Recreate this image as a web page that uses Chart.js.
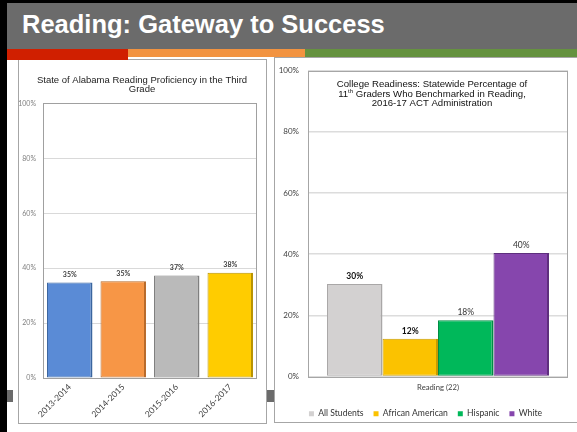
<!DOCTYPE html>
<html><head><meta charset="utf-8">
<script src="https://cdn.jsdelivr.net/npm/chart.js@4.4.1/dist/chart.umd.min.js"></script>
<style>
html,body{margin:0;padding:0;background:#fff;}
body{width:577px;height:432px;position:relative;overflow:hidden;}
.abs{position:absolute;}
#blackL{left:0;top:0;width:7px;height:432px;background:#000;}
#blackT{left:0;top:0;width:577px;height:3px;background:#000;}
#header{left:7px;top:3px;width:570px;height:46px;background:#6B6B6B;}
#header h1{margin:0;position:absolute;left:15px;top:9px;font:bold 25.5px/25px "Liberation Sans",Arial,sans-serif;color:#fff;white-space:nowrap;}
#barR{left:7px;top:49px;width:121px;height:11px;background:#D01F00;}
#barO{left:128px;top:49px;width:177px;height:8px;background:#F29340;}
#barG{left:305px;top:49px;width:272px;height:8px;background:#65923F;}
#boxL{left:18px;top:59px;width:249px;height:365px;border:1px solid #A6A6A6;box-sizing:border-box;}
#boxR{left:274px;top:57px;width:304px;height:366px;border:1px solid #A6A6A6;box-sizing:border-box;}
#sq1{left:7px;top:390px;width:6px;height:12px;background:#6B6B6B;}
#sq2{left:267px;top:390px;width:7px;height:12px;background:#6B6B6B;}
#cL{left:18px;top:59px;}
#cR{left:274px;top:57px;}
</style>
</head><body>
<div id="blackL" class="abs"></div>
<div id="blackT" class="abs"></div>
<div id="header" class="abs"><h1>Reading: Gateway to Success</h1></div>
<div id="boxL" class="abs"></div>
<div id="boxR" class="abs"></div>
<div id="barR" class="abs"></div>
<div id="barO" class="abs"></div>
<div id="barG" class="abs"></div>
<div id="sq1" class="abs"></div>
<div id="sq2" class="abs"></div>
<div id="cL" class="abs" style="width:248px;height:364px;"><canvas id="chartL" width="248" height="364"></canvas></div>
<div id="cR" class="abs" style="width:303px;height:375px;"><canvas id="chartR" width="303" height="375"></canvas></div>
<script>
// ---- data ----
const leftTitle = ['State of Alabama Reading Proficiency in the Third', 'Grade'];
const leftCategories = ['2013-2014', '2014-2015', '2015-2016', '2016-2017'];
const leftValues = [34.8, 35.2, 37.3, 38.3];
const yTicks = [0, 20, 40, 60, 80, 100];

const rightTitleLines = ['College Readiness: Statewide Percentage of', ['11', 'th', ' Graders Who Benchmarked in Reading,'], '2016-17 ACT Administration'];
const rightCategories = ['Reading (22)'];
const rightSeries = ['All Students', 'African American', 'Hispanic', 'White'];
const allStudents = [30.2];
const africanAmerican = [12.3];
const hispanic = [18.4];
const white = [40.4];

// ---- styles ----
const leftColors = ['#5A8BD6', '#F79646', '#BABABA', '#FFCC00'];
const leftBorders = ['#3A659F', '#B86A2A', '#7F7F7F', '#B89300'];
const rightColors = ['#D3D1D1', '#FBC200', '#00B85A', '#8646AD'];
const rightBorders = ['#A9A7A7', '#C79A00', '#008C44', '#5E2F7E'];
const rightLabelBold = [true, true, false, false];
const rightLabelColor = ['#111', '#111', '#333', '#333'];

const SANS = '"Liberation Sans", Arial, sans-serif';
const CAL = 'Lato, "Open Sans", sans-serif';

const plotBorder = {
  id: 'plotBorder',
  beforeDatasetsDraw(chart, args, opts) {
    const a = chart.chartArea, ctx = chart.ctx;
    ctx.save();
    ctx.strokeStyle = opts.color || '#A6A6A6';
    ctx.lineWidth = 1;
    ctx.strokeRect(Math.round(a.left) + 0.5, Math.round(a.top) + 0.5, Math.round(a.right - a.left) - 1, Math.round(a.bottom - a.top));
    ctx.restore();
  }
};

const valueLabels = {
  id: 'valueLabels',
  afterDatasetsDraw(chart, args, opts) {
    const ctx = chart.ctx;
    ctx.save();
    ctx.textAlign = 'center';
    ctx.textBaseline = 'middle';
    chart.data.datasets.forEach((ds, di) => {
      const meta = chart.getDatasetMeta(di);
      meta.data.forEach((el, i) => {
        const bold = opts.bold ? opts.bold[di] : true;
        ctx.font = (bold ? 'bold ' : '') + opts.size + 'px ' + CAL;
        ctx.fillStyle = opts.colors ? opts.colors[di] : '#404040';
        ctx.fillText(Math.round(ds.data[i]) + '%', el.x, el.y - opts.offset);
      });
    });
    ctx.restore();
  }
};

const innerTitle = {
  id: 'innerTitle',
  afterDraw(chart, args, opts) {
    const a = chart.chartArea, ctx = chart.ctx;
    const cx = (a.left + a.right) / 2 - 6;
    const size = 9.6;
    ctx.save();
    ctx.fillStyle = '#111';
    ctx.textBaseline = 'middle';
    opts.lines.forEach((line, li) => {
      const y = a.top + opts.offsets[li];
      if (typeof line === 'string') {
        ctx.font = size + 'px ' + SANS;
        ctx.textAlign = 'center';
        ctx.fillText(line, cx, y);
      } else {
        const f1 = size + 'px ' + SANS, f2 = '6px ' + SANS;
        ctx.font = f1; const w0 = ctx.measureText(line[0]).width; const w2 = ctx.measureText(line[2]).width;
        ctx.font = f2; const w1 = ctx.measureText(line[1]).width;
        let x = cx - (w0 + w1 + w2) / 2;
        ctx.textAlign = 'left';
        ctx.font = f1; ctx.fillText(line[0], x, y); x += w0;
        ctx.font = f2; ctx.fillText(line[1], x, y - 3); x += w1;
        ctx.font = f1; ctx.fillText(line[2], x, y);
      }
    });
    ctx.restore();
  }
};

// ---- left chart ----
new Chart(document.getElementById('chartL'), {
  type: 'bar',
  data: {
    labels: leftCategories,
    datasets: [{
      data: leftValues,
      backgroundColor: leftColors,
      borderColor: leftBorders,
      borderWidth: {top: 1, left: 1, bottom: 1, right: 2},
      borderSkipped: false,
      barPercentage: 0.85,
      categoryPercentage: 1
    }]
  },
  options: {
    responsive: false,
    animation: false,
    layout: {padding: {top: 0, left: 0, right: 0, bottom: 0}},
    plugins: {
      legend: {display: false},
      tooltip: {enabled: false},
      title: {
        display: true,
        text: leftTitle,
        color: '#222',
        font: {family: SANS, size: 9.5, weight: 'normal', lineHeight: 0.92},
        padding: {top: 17, bottom: 10}
      },
      plotBorder: {color: '#A0A0A0'},
      valueLabels: {size: 7, offset: 8, colors: ['#404040', '#404040', '#404040', '#404040']}
    },
    scales: {
      x: {
        grid: {display: false, drawTicks: false},
        border: {display: false},
        ticks: {minRotation: 45, maxRotation: 45, padding: 4, color: '#404040', font: {family: CAL, size: 8.5}},
        afterFit(s) { s.height = 45; }
      },
      y: {
        min: 0, max: 100,
        afterBuildTicks(s) { s.ticks = yTicks.map(v => ({value: v})); },
        grid: {color: '#D9D9D9', drawTicks: false},
        border: {display: false},
        ticks: {padding: 7, color: '#808080', font: {family: CAL, size: 7}, callback: v => v + '%'},
        afterFit(s) { s.width = 25; }
      },
      y2: {
        position: 'right', display: true,
        grid: {display: false, drawTicks: false}, border: {display: false},
        ticks: {display: false},
        afterFit(s) { s.width = 9; }
      }
    }
  },
  plugins: [plotBorder, valueLabels]
});

// ---- right chart ----
const rightData = [allStudents, africanAmerican, hispanic, white];
new Chart(document.getElementById('chartR'), {
  type: 'bar',
  data: {
    labels: rightCategories,
    datasets: rightSeries.map((name, i) => ({
      label: name,
      data: rightData[i],
      backgroundColor: rightColors[i],
      borderColor: rightBorders[i],
      borderWidth: {top: 1, left: 1, bottom: 1, right: 2},
      borderSkipped: false,
      barPercentage: 1,
      categoryPercentage: 0.854
    }))
  },
  options: {
    responsive: false,
    animation: false,
    layout: {padding: {top: 12, left: 0, right: 0, bottom: 4}},
    plugins: {
      tooltip: {enabled: false},
      legend: {
        display: true,
        position: 'bottom',
        labels: {
          boxWidth: 5, boxHeight: 5, padding: 10,
          color: '#333',
          font: {family: CAL, size: 8.6},
          generateLabels(chart) {
            return chart.data.datasets.map((ds, i) => ({
              text: ds.label, fillStyle: ds.backgroundColor, strokeStyle: ds.backgroundColor,
              lineWidth: 0, hidden: false, datasetIndex: i, fontColor: '#333'
            }));
          }
        }
      },
      plotBorder: {color: '#A6A6A6'},
      valueLabels: {size: 8.5, offset: 8, bold: rightLabelBold, colors: rightLabelColor},
      innerTitle: {lines: rightTitleLines, offsets: [14, 24, 33]}
    },
    scales: {
      x: {
        grid: {display: false, drawTicks: false},
        border: {display: false},
        ticks: {padding: 7, color: '#404040', font: {family: CAL, size: 7.7}},
        afterFit(s) { s.height = 23; }
      },
      y: {
        min: 0, max: 100,
        afterBuildTicks(s) { s.ticks = yTicks.map(v => ({value: v})); },
        grid: {color: '#DCDCDC', lineWidth: 1.5, drawTicks: false},
        border: {display: false},
        ticks: {padding: 9, color: '#404040', font: {family: CAL, size: 8}, callback: v => v + '%'},
        afterFit(s) { s.width = 34; }
      },
      y2: {
        position: 'right', display: true,
        grid: {display: false, drawTicks: false}, border: {display: false},
        ticks: {display: false},
        afterFit(s) { s.width = 9; }
      }
    }
  },
  plugins: [plotBorder, valueLabels, innerTitle]
});
</script>
</body></html>
